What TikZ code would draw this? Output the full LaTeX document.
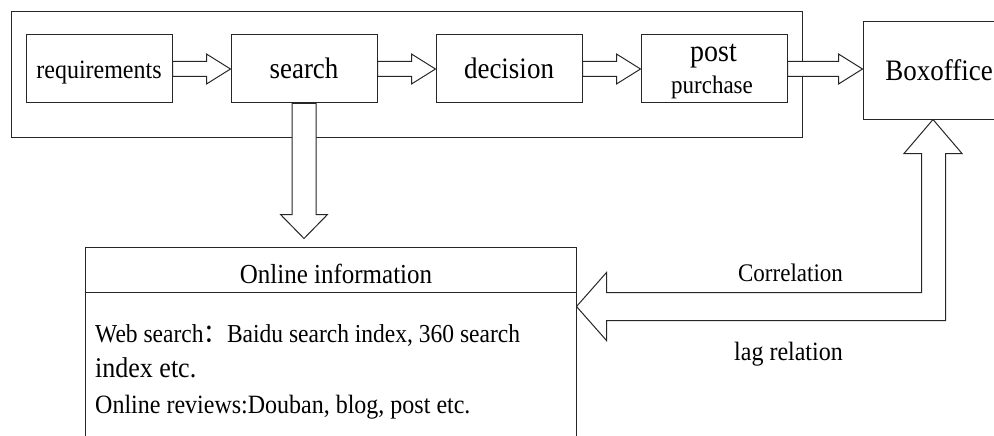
\documentclass[tikz,border=0pt]{standalone}
\usepackage{fontspec}
\usepackage{graphicx}
\setmainfont{Liberation Serif}
\newfontfamily\cjkfont{Noto Sans CJK SC}
\usetikzlibrary{calc}
\newcommand\vstretch[1]{\scalebox{1}[1.1]{#1}}
\newcommand\blockarrowH[2]{%
  \draw[blk] let \p1=(#1.east), \p2=(#2.west) in
    (\x1,\y1+7.5pt) -- (\x2-24pt,\y1+7.5pt) -- (\x2-24pt,\y1+15pt) -- (\x2,\y1)
    -- (\x2-24pt,\y1-15pt) -- (\x2-24pt,\y1-7.5pt) -- (\x1,\y1-7.5pt) -- cycle;}
\tikzset{
  stagebox/.style={draw=black!85, line width=1pt, minimum width=146pt, minimum height=68pt,
    inner sep=0pt, text height=18pt, text depth=0pt, font=\fontsize{27}{30}\selectfont},
  blk/.style={draw=black!85, fill=white, line width=1pt, line join=miter},
  plain/.style={draw=black!85, line width=1pt},
  lbl/.style={inner sep=0pt, anchor=base}
}
\begin{document}
\begin{tikzpicture}[x=1pt,y=-1pt]
\useasboundingbox (0,0) rectangle (994,436);
\clip (0,0) rectangle (994,436);
% outer frame
\node[plain, minimum width=791pt, minimum height=125pt, inner sep=0pt] (outer) at (406.5,74.5) {};
% stages
\node[stagebox, font=\fontsize{24}{28}\selectfont] (req) at (99,69) {\vstretch{requirements}};
\node[stagebox] (search) at (304,69) {\vstretch{search}};
\node[stagebox] (decision) at (509,69) {\vstretch{decision}};
\node[stagebox] (post) at (714,69) {};
\node[lbl, font=\fontsize{28}{30}\selectfont] (postA) at (713.5,62) {\vstretch{post}};
\node[lbl, font=\fontsize{23}{26}\selectfont] (postB) at (712,93) {\vstretch{purchase}};
% box office
\node[plain, minimum width=152pt, minimum height=97pt, inner sep=0pt] (box) at (939,70.5) {};
\node[lbl, font=\fontsize{27}{30}\selectfont] (boxT) at (939,80.5) {\vstretch{Boxoffice}};
% online information
\node[plain, minimum width=491pt, minimum height=213pt, inner sep=0pt] (online) at (330.5,353.5) {};
\draw[plain] ([yshift=-46pt]online.north west) -- ([yshift=-46pt]online.north east);
\node[lbl, font=\fontsize{25}{28}\selectfont] (onT) at (336,283) {\vstretch{Online information}};
\node[lbl, anchor=base west, font=\fontsize{23.5}{26}\selectfont] (l1) at (95,342)
  {\vstretch{Web search{\cjkfont ：}Baidu search index, 360 search}};
\node[lbl, anchor=base west, font=\fontsize{26}{28}\selectfont] (l2) at (95,377) {\vstretch{index etc.}};
\node[lbl, anchor=base west, font=\fontsize{24}{28}\selectfont] (l3) at (95,413)
  {\vstretch{Online reviews:Douban, blog, post etc.}};
% horizontal block arrows
\blockarrowH{req}{search}
\blockarrowH{search}{decision}
\blockarrowH{decision}{post}
\blockarrowH{post}{box}
% search down to online
\draw[blk] let \p1=(search.south), \p2=(online.north) in
  (\x1-12pt,\y1) -- (\x1-12pt,\y2+32pt) -- (\x1-23.5pt,\y2+32pt) -- (\x1,\y2+8pt)
  -- (\x1+23.5pt,\y2+32pt) -- (\x1+12pt,\y2+32pt) -- (\x1+12pt,\y1) -- cycle;
% L-shaped arrow between online info and box office
\coordinate (ltip) at ([yshift=-60pt]online.north east);
\coordinate (utip) at ([xshift=-6pt]box.south);
\draw[blk] let \p1=(ltip), \p3=(utip) in
  (\x1,\y1) -- (\x1+30pt,\y1+34pt) -- (\x1+30pt,\y1+14pt) -- (\x3-11.5pt,\y1+14pt)
  -- (\x3-11.5pt,\y3-34pt) -- (\x3-29pt,\y3-34pt) -- (\x3,\y3) -- (\x3+29pt,\y3-34pt)
  -- (\x3+12.5pt,\y3-34pt) -- (\x3+12.5pt,\y1-14pt) -- (\x1+30pt,\y1-14pt)
  -- (\x1+30pt,\y1-34pt) -- cycle;
\node[lbl, font=\fontsize{23}{26}\selectfont] (corr) at (790.5,281) {\vstretch{Correlation}};
\node[lbl, font=\fontsize{24}{28}\selectfont] (lag) at (788.5,360) {\vstretch{lag relation}};
\end{tikzpicture}
\end{document}
